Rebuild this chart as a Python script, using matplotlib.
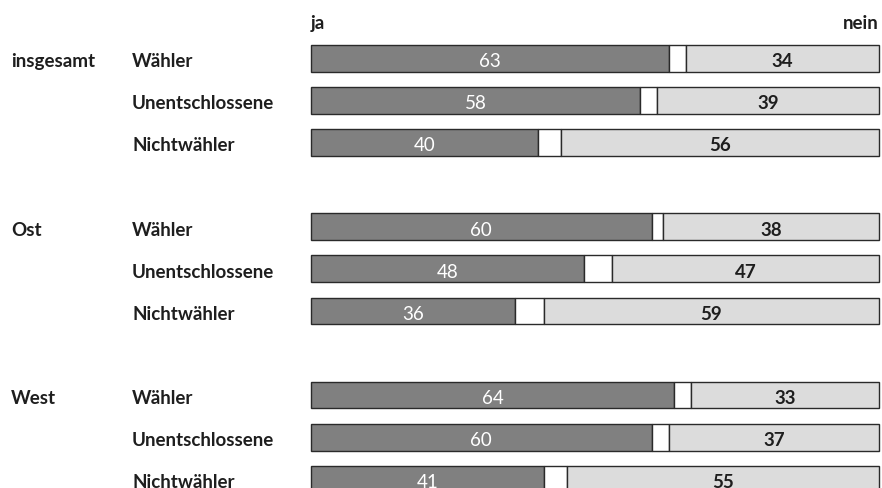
import matplotlib
import matplotlib.pyplot as plt
import matplotlib.transforms as mtransforms

matplotlib.use("Agg")

groups = ["insgesamt", "Ost", "West"]
subgroups = ["Wähler", "Unentschlossene", "Nichtwähler"]
ja = [[63, 58, 40], [60, 48, 36], [64, 60, 41]]
nein = [[34, 39, 56], [38, 47, 59], [33, 37, 55]]

dark = "#808080"
light = "#dcdcdc"
edge = "#2a2a2a"
text_col = "#1e1e1e"

plt.rcParams["font.family"] = ["Lato", "DejaVu Sans"]
fs = 13.5

fig = plt.figure(figsize=(8.82, 4.88), dpi=100)
ax = fig.add_axes([0, 0, 1, 1])
ax.set_xlim(-54.75, 100.55)
ax.set_ylim(10.206, -1.385)
ax.axis("off")

label_tr = mtransforms.blended_transform_factory(fig.transFigure, ax.transData)
bar_h = 0.634
base = 0.21  # baseline offset below bar centre

for g, group in enumerate(groups):
    for s, sub in enumerate(subgroups):
        y = g * 4 + s
        j = ja[g][s]
        n = nein[g][s]
        ax.barh(y, j, left=0, height=bar_h, color=dark, edgecolor=edge, linewidth=1)
        ax.barh(y, 100 - j - n, left=j, height=bar_h, color="white", edgecolor=edge, linewidth=1)
        ax.barh(y, n, left=100 - n, height=bar_h, color=light, edgecolor=edge, linewidth=1)
        ax.text(j / 2, y + base, str(j), ha="center", va="baseline", color="white", fontsize=fs)
        ax.text(100 - n / 2, y + base, str(n), ha="center", va="baseline", color=text_col,
                fontsize=fs, fontweight="bold")
        ax.text(132 / 882, y + base, sub, transform=label_tr, ha="left", va="baseline",
                color=text_col, fontsize=fs, fontweight="bold")
        if s == 0:
            ax.text(11 / 882, y + base, group, transform=label_tr, ha="left", va="baseline",
                    color=text_col, fontsize=fs, fontweight="bold")

ax.text(0, -0.70, "ja", ha="left", va="baseline", color=text_col, fontsize=fs, fontweight="bold")
ax.text(100, -0.70, "nein", ha="right", va="baseline", color=text_col, fontsize=fs, fontweight="bold")

fig.savefig("out.png", dpi=100)
plt.close(fig)
